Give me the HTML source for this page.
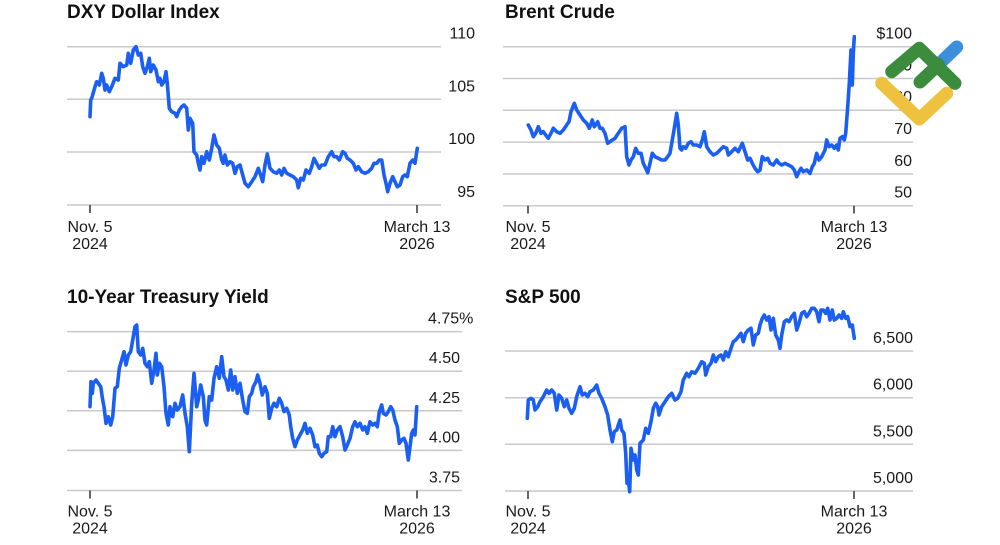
<!DOCTYPE html>
<html>
<head>
<meta charset="utf-8">
<style>
html,body{margin:0;padding:0;background:#fff;}
svg{display:block;}
.t{font-family:"Liberation Sans",Arial,sans-serif;font-weight:bold;font-size:19px;fill:#111;}
.a{font-family:"Liberation Sans",Arial,sans-serif;font-size:16px;fill:#1a1a1a;}
.g{stroke:#c9c9c9;stroke-width:1.5;}
.k{stroke:#333;stroke-width:1.5;}
.s{fill:none;stroke:#1b5ef2;stroke-width:3.6;stroke-linejoin:round;stroke-linecap:round;}
</style>
</head>
<body>
<svg width="1000" height="545" viewBox="0 0 1000 545" xmlns="http://www.w3.org/2000/svg">
<rect width="1000" height="545" fill="#fff"/>

<!-- DXY -->
<text class="t" x="67" y="18">DXY Dollar Index</text>
<line class="g" x1="67" y1="46.7" x2="441" y2="46.7"/>
<line class="g" x1="67" y1="99.3" x2="441" y2="99.3"/>
<line class="g" x1="67" y1="152" x2="441" y2="152"/>
<line class="g" x1="67" y1="205" x2="441" y2="205"/>
<text class="a" x="475" y="38.5" text-anchor="end">110</text>
<text class="a" x="475" y="91.5" text-anchor="end">105</text>
<text class="a" x="475" y="144" text-anchor="end">100</text>
<text class="a" x="475" y="197" text-anchor="end">95</text>
<line class="k" x1="90" y1="205" x2="90" y2="213"/>
<line class="k" x1="417" y1="205" x2="417" y2="213"/>
<text class="a" x="90" y="232" text-anchor="middle">Nov. 5</text>
<text class="a" x="90" y="249" text-anchor="middle">2024</text>
<text class="a" x="417" y="232" text-anchor="middle">March 13</text>
<text class="a" x="417" y="249" text-anchor="middle">2026</text>
<polyline class="s" points="90,116.7 90.7,100 91.7,98.3 95,86.7 96.7,81.7 99.3,85 101.7,73.3 103.3,78.3 105,90 106.7,85 109.3,91.7 111.7,86.7 115,78.3 118.3,80 120,63.3 123.3,66.7 126.7,65 128.3,53.3 130.7,63.3 133.3,50 136,46.7 138.3,55 140.7,53.3 142.7,66.7 145,73.3 147.3,66.7 149.3,58.3 150.7,71.7 153.3,65 156,70 158.3,81.7 160,78.3 161.7,85 164,81.7 166,71.7 167.3,83.3 169.3,108.3 171.7,111.7 175,113.3 176.7,116.7 179.3,110 181.7,106.7 184,105 186.7,108.3 188.3,130 190,118.3 192.7,123.3 194,151.7 196.7,155 198.3,163.3 200,170 201.7,156.7 204,163.3 206.7,151.7 209.3,160 211.7,148.3 214,135 216.7,145 219.3,148.3 221.7,160 223.3,163.3 225,155 227.3,165 230,161.7 232.7,163.3 235,173.3 237.3,166.7 240,165 242.7,175 245,183.3 248.3,186.7 251.7,181.7 255,176.7 258.3,168.3 260,173.3 262.7,181.7 265,165 267.3,154 270,168.3 273.3,171.7 276.7,173.3 279.3,170 281.7,175 284,168.3 286.7,173.3 290,175 293.3,176.7 296.7,180 298.3,187.7 300.7,178.3 303.3,180 306,170 309.3,173.3 311.7,166.7 314,158.3 316.7,163.3 319.3,168.3 321.7,165 325,165 328.3,156.7 331.7,151.7 334,156.7 336.7,156.7 339.3,160 342.7,151.7 345,153.3 347.3,158.3 350,160 353.3,163.3 356,170 358.3,166.7 361.7,171.7 365,173.3 368.3,171.7 371.7,168.3 374,163.3 376.7,163.3 379.3,160 381.7,160 384,175 386,183.3 387.7,191.7 390,183.3 392.7,176.7 395,181.7 397.3,186.7 400,185 402.7,176.7 405,175 407.3,176.7 410,163.3 412.7,160 415,163.3 417.3,148.3"/>

<!-- Brent -->
<text class="t" x="505" y="18">Brent Crude</text>
<line class="g" x1="503" y1="46.7" x2="913" y2="46.7"/>
<line class="g" x1="503" y1="78.5" x2="913" y2="78.5"/>
<line class="g" x1="503" y1="110.3" x2="913" y2="110.3"/>
<line class="g" x1="503" y1="142.1" x2="913" y2="142.1"/>
<line class="g" x1="503" y1="174" x2="913" y2="174"/>
<line class="g" x1="503" y1="205.8" x2="913" y2="205.8"/>
<text class="a" x="912" y="38.5" text-anchor="end">$100</text>
<text class="a" x="912" y="70.3" text-anchor="end">90</text>
<text class="a" x="912" y="102.1" text-anchor="end">80</text>
<text class="a" x="912" y="134" text-anchor="end">70</text>
<text class="a" x="912" y="165.8" text-anchor="end">60</text>
<text class="a" x="912" y="197.6" text-anchor="end">50</text>
<line class="k" x1="528" y1="205.8" x2="528" y2="213.5"/>
<line class="k" x1="854" y1="205.8" x2="854" y2="213.5"/>
<text class="a" x="528" y="232" text-anchor="middle">Nov. 5</text>
<text class="a" x="528" y="249" text-anchor="middle">2024</text>
<text class="a" x="854" y="232" text-anchor="middle">March 13</text>
<text class="a" x="854" y="249" text-anchor="middle">2026</text>
<polyline class="s" points="528.3,125 531,130 533.3,136.7 535.7,133.3 538.3,126.7 541,133.3 543.3,131.7 545.7,135 548.3,138.3 551,133.3 553.3,128.3 556.7,131.7 560,133.3 563.3,130 566.7,125 569,121.7 571,111.7 574.3,103.3 576.7,110 580,115 583.3,120 586.7,123.3 589.3,128.3 592.3,120 594.3,126.7 597.7,121.7 600,128.3 602.3,128.3 605,133.3 607.7,143.3 610,141.7 612.3,140 615,138.3 618.3,133.3 621.7,128.3 625,126.7 626.7,156.7 629,165 631,160 633.3,156.7 635.7,148.3 638.3,153.3 641,153.3 643.3,163.3 645.7,168.3 647.7,172.7 650,163.3 652.3,153.3 655,156.7 658.3,158.3 661.7,160 665,160 667.7,156.7 670,153.3 672.3,140 674.3,128.3 676.7,113.3 678.3,125 680,148.3 681.7,150 683.3,146.7 685.7,148.3 688.3,143.3 691,141.7 693.3,145 696.7,145 700,146.7 702.3,140 704.3,131.7 706.7,146.7 710,151.7 713.3,155 716.7,153.3 720,150 723.3,146.7 726.7,148.3 728.3,155 731.7,151.7 735,148.3 738.3,151.7 742.3,143.3 745,151.7 747.7,160 750,158.3 752.3,163.3 755,168.3 757.7,171.7 760,170 762.3,156.7 765,160 767.7,158.3 770,163.3 773.3,165 776.7,160 779,163.3 781.7,165 785,163.3 788.3,165 791.7,166.7 794.3,170 796.7,176.7 799,171.7 801,168.3 803.3,171.7 806.7,170 810,173.3 812.3,166.7 814.3,163.3 816.7,153.3 819,160 821.7,156.7 825,150 826.7,140 829,146.7 831.7,145 834.3,148.3 836.7,145 838.3,150 840,138.3 842.3,136.7 844.3,140 845.7,133.3 847.7,106.7 849.3,83.3 851,50 852.3,85 853.3,53.3 854.3,36.7"/>

<!-- 10-Year Treasury -->
<text class="t" x="67" y="303">10-Year Treasury Yield</text>
<line class="g" x1="67" y1="331.6" x2="462" y2="331.6"/>
<line class="g" x1="67" y1="371.2" x2="462" y2="371.2"/>
<line class="g" x1="67" y1="410.8" x2="462" y2="410.8"/>
<line class="g" x1="67" y1="450.4" x2="462" y2="450.4"/>
<line class="g" x1="67" y1="490.5" x2="462" y2="490.5"/>
<text class="a" x="428" y="323.5">4.75%</text>
<text class="a" x="460" y="363.2" text-anchor="end">4.50</text>
<text class="a" x="460" y="402.8" text-anchor="end">4.25</text>
<text class="a" x="460" y="442.4" text-anchor="end">4.00</text>
<text class="a" x="460" y="482.5" text-anchor="end">3.75</text>
<line class="k" x1="90" y1="490.5" x2="90" y2="498.5"/>
<line class="k" x1="417" y1="490.5" x2="417" y2="498.5"/>
<text class="a" x="90" y="516.7" text-anchor="middle">Nov. 5</text>
<text class="a" x="90" y="533.5" text-anchor="middle">2024</text>
<text class="a" x="417" y="516.7" text-anchor="middle">March 13</text>
<text class="a" x="417" y="533.5" text-anchor="middle">2026</text>
<polyline class="s" points="90,406.7 91,381.7 92.3,393.3 93.3,383.3 96,380 98.3,383.3 100.7,386.7 102.7,400 104,406.7 106,423.3 108.3,416.7 110.7,425 112.7,416.7 115,388.3 117.3,386.7 119.3,368.3 121.7,360 124,351.7 126,365 128.3,355 130.7,351.7 132.7,340 135,326.7 136.7,325 138.3,351.7 140.7,355 142.7,348.3 145,363.3 147.3,366.7 149.3,361.7 151.7,383.3 154,370 156,353.3 157.3,375 159.3,363.3 161.7,366.7 164,386.7 166,413.3 168.3,425 170,406.7 172.7,416.7 175,403.3 177.3,410 180,406.7 182.7,395 185,413.3 187.3,426.7 189.3,451.7 191.7,403.3 194,373.3 196.7,406.7 198.3,400 200.7,385 203.3,396.7 205,420 206.7,425 209.3,396.7 211.7,400 214,378.3 216.7,366.7 219.3,378.3 221.7,356.7 224,376.7 226,380 228.3,390 230.7,370 232.7,390 235,376.7 237.3,393.3 240,383.3 242.7,400 245,411.7 247.3,413.3 249.3,396.7 251.7,393.3 253.3,386.7 256,381.7 257.7,375 260,383.3 262.3,395 265,386.7 267.3,393.3 269.3,418.3 271.7,408.3 274,403.3 276.7,406.7 279.3,398.3 281.7,403.3 284,411.7 286.7,408.3 289.3,415 290.7,426.7 292.7,438.3 295,446.7 297.3,440 300,435 302.7,430 305,423.3 307.3,433.3 310,428.3 312.7,435 315,446.7 317.3,445 319.3,453.3 321.7,456.7 324,453.3 326.7,451.7 328.3,436.7 330.7,436.7 332.7,426.7 335,436.7 337.3,430 340,426.7 342.7,436.7 345,450 347.3,445 350,438.3 352.7,426.7 355,421.7 357.3,426.7 360,423.3 362.7,430 365,426.7 367.3,433.3 370,421.7 372.7,425 375,423.3 377.3,426.7 379.3,411.7 381.7,405 383.3,413.3 386,415 388.3,411.7 390.7,406.7 392.7,410 395,420 397.3,426.7 399.3,443.3 401.7,440 404,438.3 406,443.3 408.3,460 410,446.7 411.7,433.3 413.3,430 415,435 416.7,406.7"/>

<!-- S&P 500 -->
<text class="t" x="505" y="303">S&amp;P 500</text>
<line class="g" x1="505" y1="351" x2="913" y2="351"/>
<line class="g" x1="505" y1="397.7" x2="913" y2="397.7"/>
<line class="g" x1="505" y1="444.3" x2="913" y2="444.3"/>
<line class="g" x1="505" y1="491" x2="913" y2="491"/>
<text class="a" x="913" y="343" text-anchor="end">6,500</text>
<text class="a" x="913" y="389.7" text-anchor="end">6,000</text>
<text class="a" x="913" y="436.3" text-anchor="end">5,500</text>
<text class="a" x="913" y="483" text-anchor="end">5,000</text>
<line class="k" x1="528" y1="491" x2="528" y2="499"/>
<line class="k" x1="854" y1="491" x2="854" y2="499"/>
<text class="a" x="528" y="516.7" text-anchor="middle">Nov. 5</text>
<text class="a" x="528" y="533.5" text-anchor="middle">2024</text>
<text class="a" x="854" y="516.7" text-anchor="middle">March 13</text>
<text class="a" x="854" y="533.5" text-anchor="middle">2026</text>
<polyline class="s" points="527.3,418.3 528.3,400 531,398.3 533.3,400 535,410 537.7,406.7 540,401.7 543.3,396.7 546.7,390 549,393.3 551.7,390 554.3,393.3 556.7,410 559,395 561.7,398.3 564.3,406.7 566.7,400 569,408.3 571.7,413.3 574.3,408.3 576.7,396.7 580,386.7 582.3,395 585,393.3 587.7,396.7 590,391.7 593.3,390 596.7,385 599,393.3 601.7,398.3 605,406.7 607.7,415 610,430 612.3,441.7 614.3,431.7 616.7,430 620,420 621.7,430 624,433.3 625.7,453.3 627,483.3 628.3,480 629.7,491.7 631,448.3 633.3,460 635,455 636.7,470 638.3,475 640,443.3 643.3,440 645.7,428.3 648.3,433.3 651,421.7 653.3,408.3 655.7,403.3 657.7,406.7 659,415 661.7,406.7 665,401.7 668.3,396.7 671.7,393.3 675,400 677.7,398.3 681,391.7 683.3,380 686.7,373.3 689,376.7 691.7,371.7 695,373.3 698.3,368.3 701.7,361.7 704.3,363.3 705.7,375 708.3,366.7 711,363.3 713.3,355 715.7,361.7 718.3,356.7 721,355 723.3,360 725.7,351.7 728.3,356.7 731,348.3 733.3,341.7 735.7,340 738.3,336.7 741,333.3 743.3,341.7 745.7,333.3 748.3,330 751,328.3 753.3,345 755.7,335 758.3,333.3 760,325 762.3,318.3 764.3,315 766.7,320 769,316.7 771,330 773.3,318.3 775.7,335 778.3,340 780,348.3 781.7,335 784.3,321.7 786.7,320 789,321.7 791.7,316.7 794.3,313.3 796.7,330 799,323.3 801.7,313.3 804.3,311.7 806.7,316.7 809,313.3 811.7,308.3 814.3,308.3 816.7,311.7 819,321.7 821,310 823.3,310 825.7,313.3 827.7,308.3 830,320 832.3,310 834.3,320 836.7,318.3 839,315 841.7,318.3 843.3,311.7 845.7,318.3 847.7,316.7 850,326.7 852.3,325 854.3,338.3"/>

<!-- Logo -->
<g fill="none" stroke-linecap="round" stroke-linejoin="round" stroke-width="13">
  <polyline points="881.7,83.3 919.3,119 946.7,93.3" stroke="#eec23f"/>
  <line x1="938" y1="65" x2="956.7" y2="47" stroke="#3b8fdc"/>
  <line x1="920" y1="82" x2="938.5" y2="64.5" stroke="#3b8c3c"/>
  <polyline points="891.7,71.7 919.3,48.3 955,83.3" stroke="#3b8c3c"/>
</g>
</svg>
</body>
</html>
